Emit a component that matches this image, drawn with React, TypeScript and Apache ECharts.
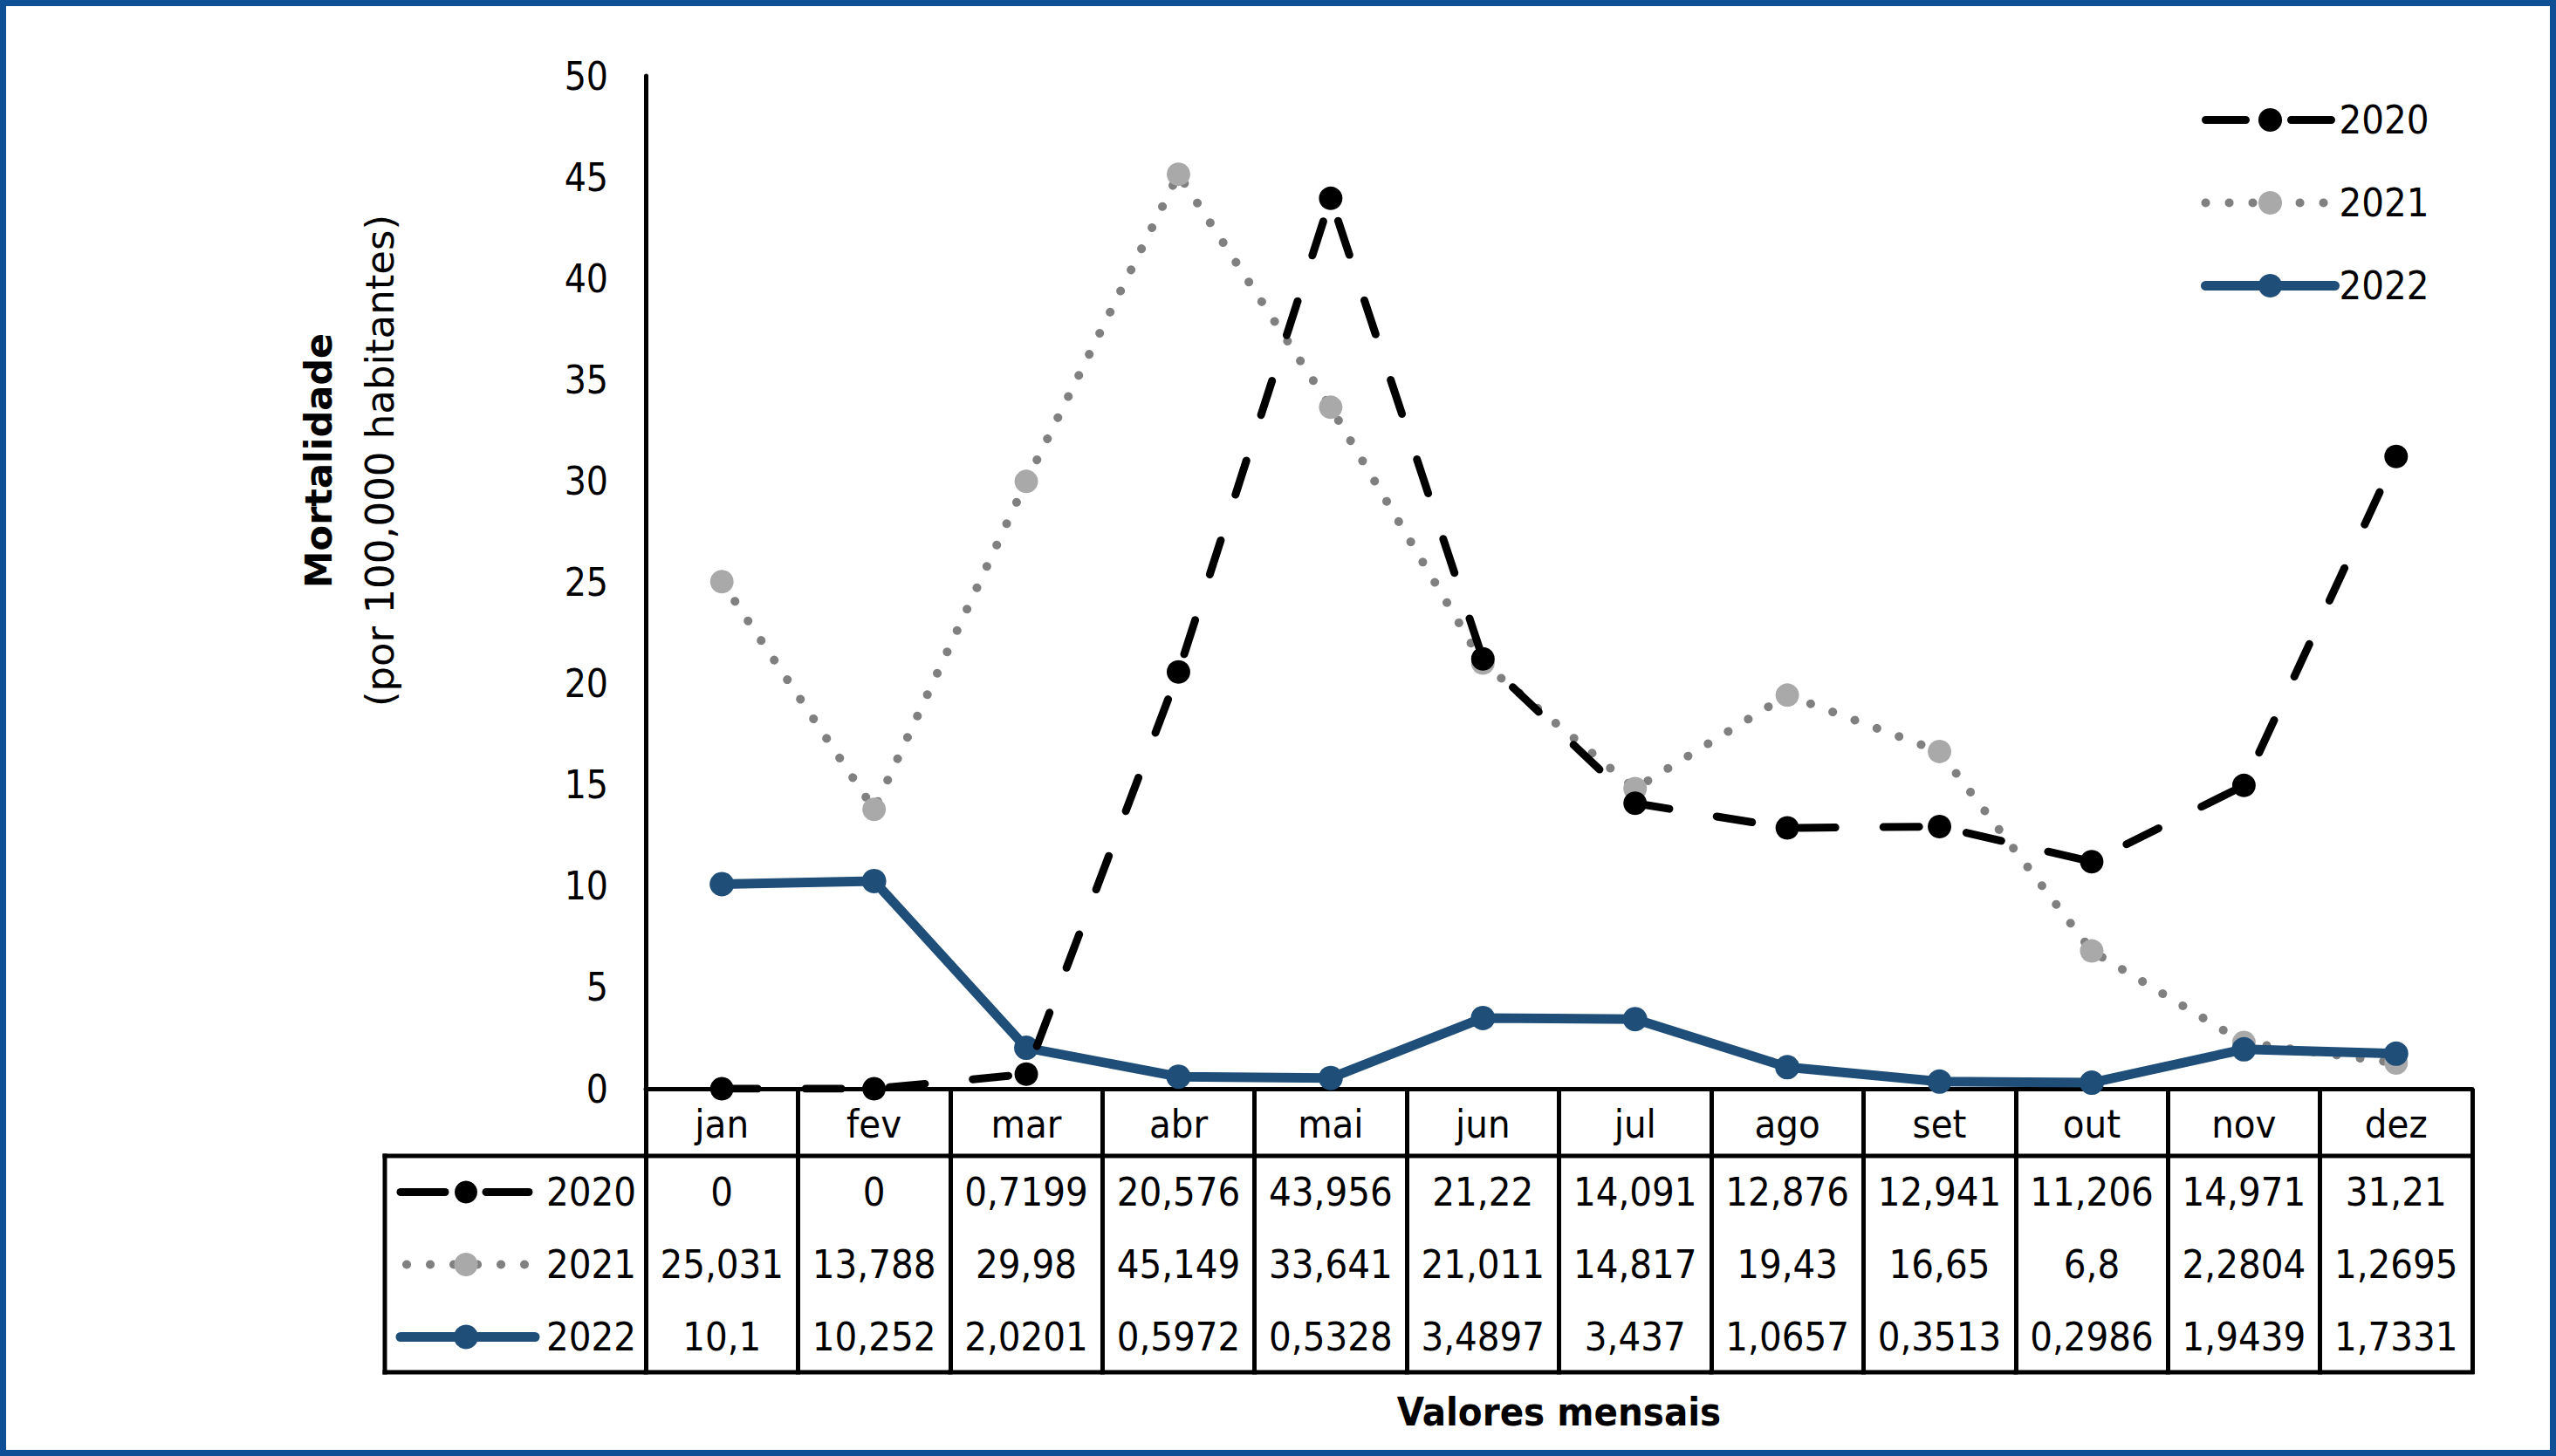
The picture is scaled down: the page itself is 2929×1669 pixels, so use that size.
import React, { useEffect, useRef } from "react";
import * as echarts from "echarts";

const months = ["jan", "fev", "mar", "abr", "mai", "jun", "jul", "ago", "set", "out", "nov", "dez"];
const years = ["2020", "2021", "2022"];
const v2020 = [0, 0, 0.7199, 20.576, 43.956, 21.22, 14.091, 12.876, 12.941, 11.206, 14.971, 31.21];
const v2021 = [25.031, 13.788, 29.98, 45.149, 33.641, 21.011, 14.817, 19.43, 16.65, 6.8, 2.2804, 1.2695];
const v2022 = [10.1, 10.252, 2.0201, 0.5972, 0.5328, 3.4897, 3.437, 1.0657, 0.3513, 0.2986, 1.9439, 1.7331];
const yMin = 0;
const yMax = 50;
const yStep = 5;
const yTitleBold = "Mortalidade";
const yTitleRegular = "(por 100,000 habitantes)";
const xTitle = "Valores mensais";

const NARROW = "'DejaVu Sans Condensed', 'Liberation Sans Narrow', 'DejaVu Sans', sans-serif";
const WIDE = "'DejaVu Sans', Verdana, sans-serif";
const C2020 = "#000000";
const C2021_LINE = "#808080";
const C2021_MARK = "#a9a9a9";
const C2022 = "#1F4E79";
const BORDER = "#0E4F96";

const fmt = (v: number) => String(v).replace(".", ",");

export default function App() {
  const ref = useRef<HTMLDivElement>(null);
  useEffect(() => {
    if (!ref.current) return;
    const chart = echarts.init(ref.current, undefined, { renderer: "svg" });

    const tableData = months.map((_, i) => [i, 0, v2020[i], v2021[i], v2022[i]]);

    const renderTable = (params: any, api: any) => {
      const i = api.value(0);
      const p = api.coord([i, 0]);
      const w = api.size([1, 0])[0];
      const cx = p[0];
      const y0 = p[1];
      const x1 = cx - w / 2;
      const x2 = cx + w / 2;
      const yHead = y0 + 77;
      const yBot = y0 + 325;
      const rowY = [yHead + 41.5, yHead + 124.5, yHead + 207.5];
      const line = (ax: number, ay: number, bx: number, by: number, lw = 5) => ({
        type: "line",
        shape: { x1: ax, y1: ay, x2: bx, y2: by },
        style: { stroke: "#000", lineWidth: lw, lineCap: "square" },
      });
      const children: any[] = [line(x1, yHead, x2, yHead), line(x1, yBot, x2, yBot)];
      [2, 3, 4].forEach((d, r) => {
        children.push({
          type: "text",
          x: cx,
          y: rowY[r],
          style: {
            text: fmt(api.value(d)),
            fontSize: 45,
            fontFamily: NARROW,
            fill: "#000",
            align: "center",
            verticalAlign: "middle",
          },
        });
      });
      if (params.dataIndex === 0) {
        const tl = x1 - 299;
        children.push(line(tl, yHead, x1, yHead), line(tl, yBot, x1, yBot), line(tl, yHead, tl, yBot));
        // key 2020
        children.push({
          type: "line",
          shape: { x1: tl + 18, y1: rowY[0], x2: tl + 69, y2: rowY[0] },
          style: { stroke: C2020, lineWidth: 9, lineCap: "round" },
        });
        children.push({
          type: "line",
          shape: { x1: tl + 116, y1: rowY[0], x2: tl + 165, y2: rowY[0] },
          style: { stroke: C2020, lineWidth: 9, lineCap: "round" },
        });
        children.push({ type: "circle", shape: { cx: tl + 93, cy: rowY[0], r: 13 }, style: { fill: C2020 } });
        // key 2021
        children.push({
          type: "line",
          shape: { x1: tl + 25, y1: rowY[1], x2: tl + 160, y2: rowY[1] },
          style: { stroke: C2021_LINE, lineWidth: 10, lineCap: "round", lineDash: [0.1, 26.9] },
        });
        children.push({ type: "circle", shape: { cx: tl + 93, cy: rowY[1], r: 13.5 }, style: { fill: C2021_MARK } });
        // key 2022
        children.push({
          type: "line",
          shape: { x1: tl + 18, y1: rowY[2], x2: tl + 172, y2: rowY[2] },
          style: { stroke: C2022, lineWidth: 11, lineCap: "round" },
        });
        children.push({ type: "circle", shape: { cx: tl + 93, cy: rowY[2], r: 14 }, style: { fill: C2022 } });
        years.forEach((yr, r) => {
          children.push({
            type: "text",
            x: x1 - 11,
            y: rowY[r],
            style: {
              text: yr,
              fontSize: 45,
              fontFamily: NARROW,
              fill: "#000",
              align: "right",
              verticalAlign: "middle",
            },
          });
        });
      }
      return { type: "group", children };
    };

    chart.setOption({
      animation: false,
      backgroundColor: "#ffffff",
      grid: { left: 740, right: 96, top: 87, bottom: 421, containLabel: false },
      xAxis: {
        type: "category",
        data: months,
        boundaryGap: true,
        axisLine: { show: true, lineStyle: { color: "#000", width: 5 } },
        axisTick: { show: true, interval: 0, length: 327, lineStyle: { color: "#000", width: 5 } },
        axisLabel: {
          interval: 0,
          margin: 40,
          verticalAlign: "middle",
          fontSize: 45,
          fontFamily: NARROW,
          color: "#000",
        },
        splitLine: { show: false },
        name: xTitle,
        nameLocation: "middle",
        nameGap: 370,
        nameTextStyle: {
          fontSize: 45,
          fontWeight: "bold",
          fontFamily: NARROW,
          color: "#000",
          verticalAlign: "middle",
        },
      },
      yAxis: {
        type: "value",
        min: yMin,
        max: yMax,
        interval: yStep,
        axisLine: { show: true, lineStyle: { color: "#000", width: 5 } },
        axisTick: { show: false },
        splitLine: { show: false },
        axisLabel: { margin: 43, fontSize: 44, fontFamily: NARROW, color: "#000" },
      },
      legend: {
        orient: "vertical",
        left: 2517,
        top: 110,
        itemWidth: 148,
        itemHeight: 34,
        itemGap: 50,
        textStyle: { fontSize: 45, fontFamily: NARROW, color: "#000" },
        data: [
          { name: "2020", lineStyle: { width: 9, type: [46, 52], cap: "round" } },
          { name: "2021", lineStyle: { width: 10, cap: "round" } },
          { name: "2022", lineStyle: { width: 11, cap: "round" } },
        ],
        selectedMode: false,
      },
      graphic: [
        {
          type: "text",
          x: 400,
          y: 528,
          rotation: Math.PI / 2,
          silent: true,
          style: {
            text: "{b|" + yTitleBold + "}\n{r|" + yTitleRegular + "}",
            align: "center",
            verticalAlign: "middle",
            fill: "#000",
            rich: {
              b: { fontSize: 43, fontWeight: "bold", fontFamily: WIDE, lineHeight: 71, fill: "#000", align: "center" },
              r: { fontSize: 45, fontFamily: WIDE, lineHeight: 71, fill: "#000", align: "center" },
            },
          },
        },
        {
          type: "rect",
          silent: true,
          z: 100,
          shape: { x: 3.5, y: 3.5, width: 2922, height: 1662 },
          style: { fill: "none", stroke: BORDER, lineWidth: 7 },
        },
      ],
      series: [
        {
          name: "2021",
          type: "line",
          data: v2021,
          z: 2,
          symbol: "circle",
          symbolSize: 27,
          showAllSymbol: true,
          itemStyle: { color: C2021_MARK },
          lineStyle: { color: C2021_LINE, width: 10, type: [0.1, 26.9], cap: "round" },
        },
        {
          name: "2022",
          type: "line",
          data: v2022,
          z: 3,
          symbol: "circle",
          symbolSize: 28,
          showAllSymbol: true,
          itemStyle: { color: C2022 },
          lineStyle: { color: C2022, width: 11, cap: "round", join: "round" },
        },
        {
          name: "2020",
          type: "line",
          data: v2020,
          z: 4,
          symbol: "circle",
          symbolSize: 27,
          showAllSymbol: true,
          itemStyle: { color: C2020 },
          lineStyle: { color: C2020, width: 9, type: [41, 55], cap: "round" },
        },
        {
          name: "table",
          type: "custom",
          data: tableData,
          encode: { x: 0, y: 1 },
          clip: false,
          silent: true,
          z: 1,
          renderItem: renderTable,
        },
      ],
    });
    return () => chart.dispose();
  }, []);
  return (
    <div
      ref={ref}
      style={{ position: "fixed", left: 0, top: 0, width: 2929, height: 1669, background: "#fff" }}
    />
  );
}
